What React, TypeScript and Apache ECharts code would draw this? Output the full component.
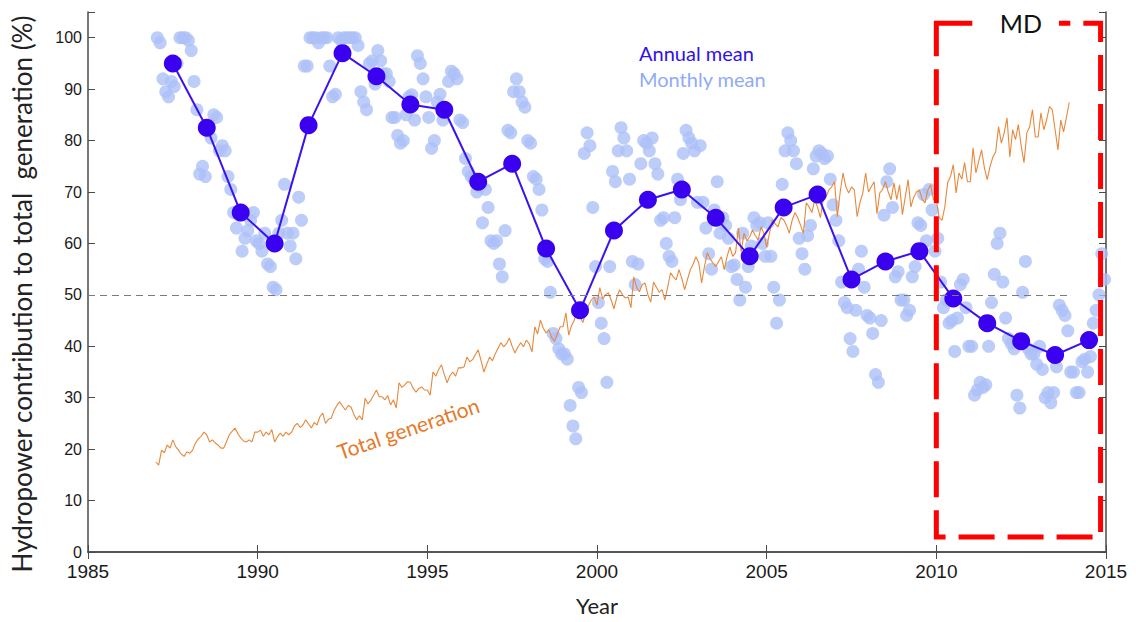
import React, { useEffect, useRef } from "react";
import * as echarts from "echarts";

const startYear = 1987;
const xTicks = { min: 1985, max: 2015, interval: 5 };
const yTicks = { min: 0, max: 105, interval: 10 };

// Annual mean hydropower contribution (%) 1987..2014 (plotted mid-year)
const annualMean = [
  95, 82.5, 66, 60, 83, 97, 92.5, 87, 86, 72, 75.5, 59, 47, 62.5,
  68.5, 70.5, 65, 57.5, 67, 69.5, 53, 56.5, 58.5, 49.3, 44.5, 41, 38.3, 41.2,
];

// Monthly mean hydropower contribution (%), one row per year from 1987
const monthlyMean = [
  [100, 99, 92, 89.5, 88.5, 91.5, 90.5, 95, 100, 100, 100, 99.5],
  [97.5, 91.5, 86, 73.5, 75, 73, 82, 80.5, 85, 84.5, 78, 79],
  [78, 73, 70.5, 66, 63, 65.5, 58.5, 61, 62.5, 64.5, 66, 60.5],
  [60, 58.5, 62, 56, 55.5, 51.5, 51, 62, 64.5, 71.5, 62, 59.5],
  [62, 57, 69, 64.5, 94.5, 94.5, 100, 100, 100, 99, 100, 100],
  [100, 94.5, 88.5, 89, 100, 99.5, 100, 100, 100, 100, 100, 98.5],
  [89.5, 87.5, 86, 95, 95.5, 91, 97.5, 95.5, 93, 93, 91.5, 84.5],
  [84.5, 81, 79.5, 80, 85, 88.5, 88.9, 84, 96.5, 95, 92, 88.5],
  [84.5, 78.5, 80, 87.5, 89, 84, 86, 91.5, 93.5, 93, 92, 84],
  [83.5, 76.5, 74, 73, 72.5, 70, 71, 64, 70.5, 67, 60.5, 60],
  [60.5, 56, 53.5, 62.5, 82, 81.5, 89.5, 92, 89.5, 87.5, 86.5, 80],
  [79.5, 73, 72.5, 70.5, 66.5, 57, 56.5, 50.5, 42.5, 41.5, 39.5, 38.5],
  [38.5, 37.5, 28.5, 24.5, 22, 32, 31, 77.5, 81.5, 79, 67, 55.5],
  [48.5, 44.5, 41.5, 33, 55.5, 74, 72, 78, 82.5, 80.5, 78, 72.5],
  [56.5, 52, 56, 75.5, 80, 79.5, 78, 80.5, 75.5, 73.5, 64.5, 65],
  [60, 57.5, 56.5, 65, 72.5, 68.5, 77.5, 82, 80.5, 79.5, 78, 68],
  [79, 68, 63, 58, 55, 66.5, 72, 62, 65, 63.5, 61, 55.5],
  [55.8, 53, 49, 62, 51.5, 55.5, 59.5, 65, 63.5, 64, 60, 57.5],
  [64, 57.5, 51.5, 44.5, 49, 71.5, 78, 81.5, 80, 78, 75.5, 61],
  [58, 55, 61.5, 63.5, 74.5, 77, 78, 77.5, 76.5, 77, 72.5, 67.5],
  [64.5, 60.5, 52.5, 48.5, 47.5, 41.5, 39, 47, 55, 58.5, 51.5, 46],
  [45.5, 42.5, 34.5, 33, 45, 65.5, 72, 74.5, 67, 53.5, 54.5, 49],
  [49, 46, 47, 53.5, 55.5, 64, 63.5, 69.5, 60.5, 70.5, 66.5, 58.5],
  [61, 52.5, 47.5, 49, 44.5, 45, 39, 45.5, 52, 53, 47.5, 40],
  [40, 30.5, 31.5, 33, 32, 32.5, 40, 48.5, 54, 60, 62, 52.5],
  [45.5, 41.5, 40.5, 39.5, 30.5, 28, 50.5, 56.5, 39.5, 38.5, 38.5, 36.5],
  [40, 35.5, 30, 31, 29, 31, 36, 48, 47, 46, 43, 35],
  [35, 31, 31, 37, 37.5, 35, 38, 44.5, 47, 50, 58, 53],
];

// Total generation (index), monthly, one row per year from 1987 to 2013
const totalGeneration = [
  [17.5, 16.9, 19.8, 19.3, 20.8, 20.2, 21.8, 20.5, 19.8, 19, 18.6, 19.5],
  [19.2, 19.8, 21.2, 22, 22.5, 23.3, 22.8, 21.4, 21.8, 21.2, 20.8, 20.2],
  [20.2, 21.5, 22.8, 23.5, 24.1, 23, 22.2, 21.6, 21.4, 21.8, 21.4, 23.3],
  [23.3, 23.7, 22.5, 23.3, 22.8, 23.8, 21.4, 22.4, 23.1, 22.5, 23.3, 22.8],
  [23.3, 24.5, 25, 24.2, 24.7, 25.7, 24.9, 24.1, 25.2, 24.7, 26.3, 27],
  [25, 25.8, 26, 27.5, 28.5, 29.2, 28.4, 27.6, 28.5, 28.2, 26.8, 25.7],
  [26.5, 25.7, 29.9, 28.8, 29.5, 30.5, 31.5, 30.2, 30.2, 29.6, 30.4, 28.6],
  [29.6, 28, 32.9, 32, 32.5, 33.1, 33, 31.8, 31.1, 31.8, 32.1, 31.5],
  [31.5, 30.5, 35, 34.2, 35.5, 36.4, 34.5, 32.9, 34.3, 35, 34.2, 35.8],
  [35.8, 36, 37.9, 37, 37.4, 38.4, 39.3, 37.2, 35, 36.5, 37.9, 37.2],
  [38.5, 39.6, 40.7, 39.9, 40.5, 41.6, 40, 38.7, 39.8, 40.7, 39.9, 41.2],
  [40.5, 38.9, 43.8, 42.4, 45.1, 43.5, 42.6, 43.2, 41.7, 40.9, 42.5, 43.8],
  [43.8, 46.5, 42.2, 44, 45.1, 47.5, 45.8, 44.6, 46.5, 48, 49, 49.6],
  [48, 51.4, 49.2, 50, 50.4, 49, 47.3, 49.5, 51, 50, 49.4, 49.6],
  [47.5, 53.5, 51.5, 50.6, 52, 52.3, 50, 48.6, 52.5, 51.5, 50.5, 51],
  [49, 51.5, 54.3, 53.5, 52.9, 54.9, 53.2, 51, 53, 54.9, 56, 57.4],
  [56.2, 52.3, 55.5, 58.2, 57, 56.2, 55.5, 56.5, 57.4, 54.9, 57.5, 59.3],
  [57.5, 58.2, 63, 58.4, 62, 60.5, 61.3, 62.6, 61.5, 60.7, 63.2, 62],
  [59.3, 62, 64.6, 63.8, 63.2, 65, 64.6, 63.5, 62, 64.5, 66, 65],
  [63.5, 62, 67.9, 67.1, 66, 68.5, 67, 65, 68.5, 69, 70.4, 71],
  [72, 65.2, 70, 73.7, 71, 69.8, 71, 70.4, 65.2, 68, 69.8, 73.7],
  [70, 71, 72, 65.8, 69.8, 70.5, 72, 70, 68.5, 71.8, 68.5, 71.4],
  [65.6, 69, 72.4, 67.1, 69, 70, 70.4, 68.5, 67.9, 70.4, 71.4, 68.5],
  [68.5, 65, 64.5, 67.1, 71.8, 73, 75.3, 69.8, 73.7, 72.5, 75.7, 72],
  [72, 78.6, 73.7, 76, 78.2, 74.7, 72.4, 75, 76.8, 77.8, 82.7, 79.5],
  [81.5, 84.4, 76.8, 82.1, 80.2, 83.1, 79, 75.7, 81.5, 82.7, 86, 80.7],
  [80.7, 85.4, 82.1, 84, 86.6, 86, 82.1, 78.2, 84, 81.7, 84.5, 87.4],
];

const referenceLevel = 50;
const referenceEnd = 2013.9;
const mdBox = { x0: 2010, x1: 2014.84, y0: 2.9, y1: 102.8, label: "MD" };

const yTitle = "Hydropower contribution to total  generation (%)";
const xTitle = "Year";
const annualLabel = "Annual mean";
const monthlyLabel = "Monthly mean";
const totalLabel = "Total generation";

const sansUI = "Lato, 'Open Sans', sans-serif";
const tickFont = "'Liberation Sans Narrow', 'Arial Narrow', 'Liberation Sans', Arial, sans-serif";

export default function App() {
  const ref = useRef<HTMLDivElement>(null);

  useEffect(() => {
    if (!ref.current) return;
    const chart = echarts.init(ref.current, null, { renderer: "svg" });

    const annualData = annualMean.map((v, i) => [startYear + i + 0.5, v]);
    const monthlyData = monthlyMean.flatMap((row, i) =>
      row.map((v, m) => [startYear + i + (m + 0.5) / 12, v])
    );
    const totalData = totalGeneration.flatMap((row, i) =>
      row.map((v, m) => [startYear + i + m / 12, v])
    );

    const axisColor = "#4a4a4a";

    chart.setOption({
      animation: false,
      backgroundColor: "#ffffff",
      grid: { left: 88, right: 30, top: 12, bottom: 70 },
      xAxis: [
        {
          type: "value",
          min: xTicks.min,
          max: xTicks.max,
          interval: xTicks.interval,
          position: "bottom",
          axisLine: { show: true, lineStyle: { color: axisColor, width: 1.5 } },
          axisTick: { show: true, inside: true, length: 7, lineStyle: { color: axisColor } },
          axisLabel: {
            color: "#1a1a1a",
            fontFamily: tickFont,
            fontSize: 19,
            margin: 10,
            formatter: (v: number) => String(v),
          },
          splitLine: { show: false },
          name: xTitle,
          nameLocation: "middle",
          nameGap: 42,
          nameTextStyle: { fontFamily: sansUI, fontSize: 22, color: "#222" },
        },
        {
          type: "value",
          min: xTicks.min,
          max: xTicks.max,
          interval: xTicks.interval,
          position: "top",
          axisLine: { show: true, lineStyle: { color: axisColor, width: 1.5 } },
          axisTick: { show: true, inside: true, length: 7, lineStyle: { color: axisColor } },
          axisLabel: { show: false },
          splitLine: { show: false },
        },
      ],
      yAxis: [
        {
          type: "value",
          min: yTicks.min,
          max: yTicks.max,
          interval: yTicks.interval,
          position: "left",
          axisLine: { show: true, lineStyle: { color: axisColor, width: 1.5 } },
          axisTick: { show: true, inside: true, length: 7, lineStyle: { color: axisColor } },
          axisLabel: {
            color: "#1a1a1a",
            fontFamily: "'Liberation Sans', Arial, sans-serif",
            fontSize: 16,
            margin: 6,
            formatter: (v: number) => (v > 100 ? "" : String(v)),
          },
          splitLine: { show: false },
        },
        {
          type: "value",
          min: yTicks.min,
          max: yTicks.max,
          interval: yTicks.interval,
          position: "right",
          axisLine: { show: true, lineStyle: { color: axisColor, width: 1.5 } },
          axisTick: { show: true, inside: true, length: 7, lineStyle: { color: axisColor } },
          axisLabel: { show: false },
          splitLine: { show: false },
        },
      ],
      series: [
        {
          name: monthlyLabel,
          type: "scatter",
          data: monthlyData,
          symbol: "circle",
          symbolSize: 13,
          itemStyle: { color: "#adc0f8" },
          z: 2,
          clip: false,
          markLine: {
            silent: true,
            symbol: "none",
            z: 5,
            label: { show: false },
            lineStyle: { color: "#7a7a7a", type: [7, 5], width: 1 },
            data: [[{ coord: [xTicks.min, referenceLevel] }, { coord: [referenceEnd, referenceLevel] }]],
          },
        },
        {
          name: totalLabel,
          type: "line",
          data: totalData,
          symbol: "none",
          lineStyle: { color: "#e8883a", width: 1.1 },
          z: 3,
        },
        {
          name: annualLabel,
          type: "line",
          data: annualData,
          symbol: "circle",
          symbolSize: 18,
          lineStyle: { color: "#3a12f2", width: 2 },
          itemStyle: { color: "#3a00f0" },
          z: 4,
          markArea: {
            silent: true,
            z: 10,
            itemStyle: {
              color: "rgba(0,0,0,0)",
              borderColor: "#ff0000",
              borderWidth: 5,
              borderType: [36, 13],
            },
            label: {
              show: true,
              formatter: mdBox.label,
              position: [87, 2],
              align: "center",
              verticalAlign: "middle",
              fontFamily: sansUI,
              fontSize: 25,
              color: "#111",
              backgroundColor: "#ffffff",
              padding: [1, 17],
            },
            data: [[{ coord: [mdBox.x0, mdBox.y1] }, { coord: [mdBox.x1, mdBox.y0] }]],
          },
        },
      ],
      graphic: [
        {
          type: "text",
          x: 22,
          y: 294,
          rotation: Math.PI / 2,
          style: {
            text: yTitle,
            fontFamily: sansUI,
            fontSize: 26,
            fill: "#222",
            textAlign: "center",
            textVerticalAlign: "middle",
          },
        },
        {
          type: "text",
          x: 639,
          y: 53,
          style: {
            text: annualLabel,
            fontFamily: sansUI,
            fontSize: 20,
            fill: "#3010f0",
            textAlign: "left",
            textVerticalAlign: "middle",
          },
        },
        {
          type: "text",
          x: 639,
          y: 79,
          style: {
            text: monthlyLabel,
            fontFamily: sansUI,
            fontSize: 20,
            fill: "#8fabf6",
            textAlign: "left",
            textVerticalAlign: "middle",
          },
        },
        {
          type: "text",
          x: 408,
          y: 428,
          rotation: 0.33,
          style: {
            text: totalLabel,
            fontFamily: sansUI,
            fontSize: 21,
            fill: "#e47a28",
            textAlign: "center",
            textVerticalAlign: "middle",
          },
        },
      ],
    });

    return () => chart.dispose();
  }, []);

  return (
    <div
      ref={ref}
      style={{ position: "absolute", left: 0, top: 0, width: 1136, height: 622 }}
    />
  );
}
